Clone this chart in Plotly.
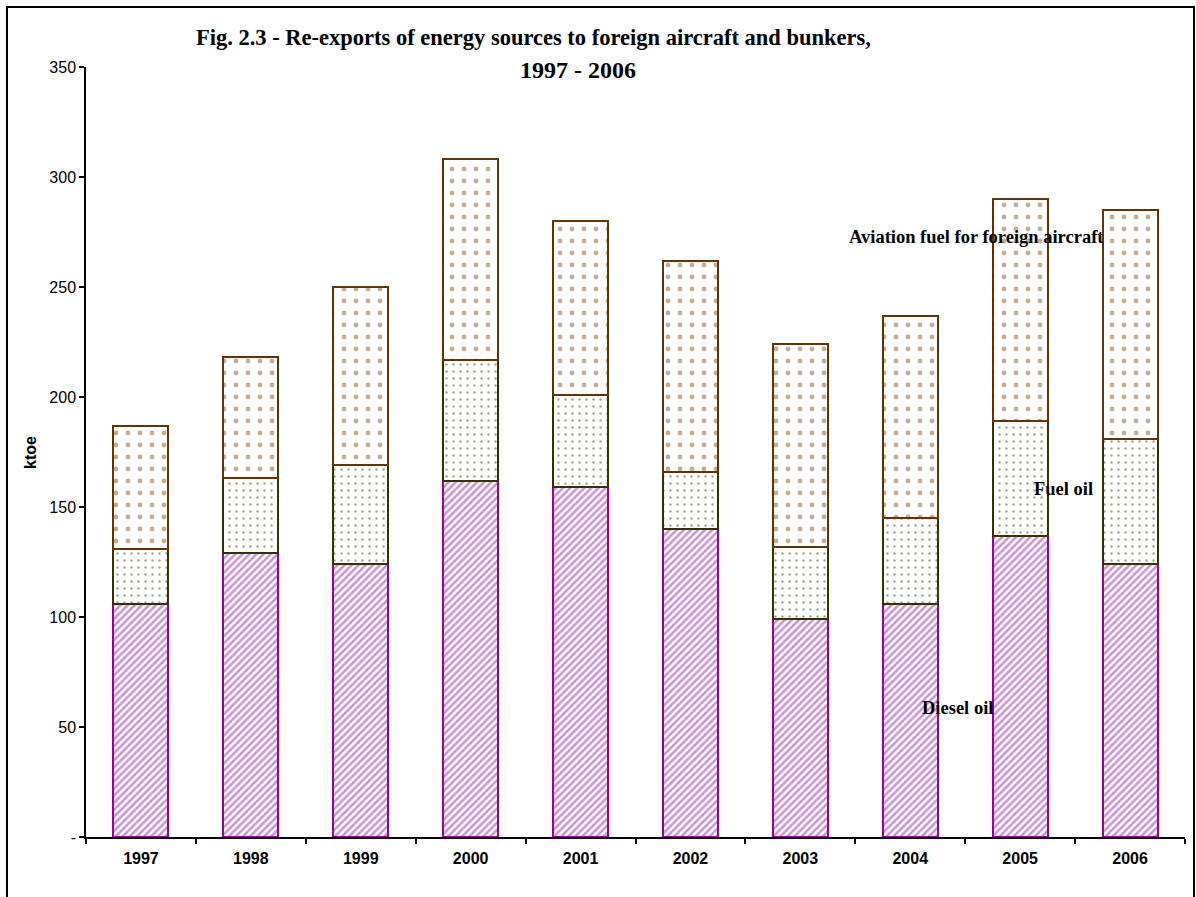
"""Re-exports of energy sources to foreign aircraft and bunkers, 1997-2006."""

import plotly.graph_objects as go

years = ["1997", "1998", "1999", "2000", "2001", "2002", "2003", "2004", "2005", "2006"]
diesel_oil = [106, 129, 124, 162, 159, 140, 99, 106, 137, 124]
fuel_oil = [25, 34, 45, 55, 42, 26, 33, 39, 52, 57]
aviation_fuel = [56, 55, 81, 91, 79, 96, 92, 92, 101, 104]

y_ticks = [0, 50, 100, 150, 200, 250, 300, 350]
y_tick_text = ["-", "50", "100", "150", "200", "250", "300", "350"]

SERIF = "Liberation Serif, Times New Roman, serif"
SANS = "Liberation Sans, Arial, sans-serif"

fig = go.Figure()

fig.add_trace(
    go.Bar(
        x=years,
        y=diesel_oil,
        name="Diesel oil",
        marker=dict(
            color="white",
            line=dict(color="#990099", width=2),
            pattern=dict(shape="/", fgcolor="#9a1fb0", bgcolor="white", size=5, solidity=0.5),
        ),
    )
)
fig.add_trace(
    go.Bar(
        x=years,
        y=fuel_oil,
        name="Fuel oil",
        marker=dict(
            color="white",
            line=dict(color="#333300", width=2),
            pattern=dict(shape=".", fgcolor="#4d4d1a", bgcolor="white", size=7, solidity=0.1),
        ),
    )
)
fig.add_trace(
    go.Bar(
        x=years,
        y=aviation_fuel,
        name="Aviation fuel for foreign aircraft",
        marker=dict(
            color="white",
            line=dict(color="#663300", width=2),
            pattern=dict(shape=".", fgcolor="#8b5a2b", bgcolor="white", size=12, solidity=0.13),
        ),
    )
)

# in-chart series labels, as in the original
labels = [
    ("Aviation fuel for foreign aircraft", 0.8106, 272.7),
    ("Fuel oil", 0.8898, 158),
    ("Diesel oil", 0.7933, 58.6),
]
for text, px, py in labels:
    fig.add_annotation(
        text=f"<b>{text}</b>",
        x=px,
        y=py,
        xref="paper",
        yref="y",
        xanchor="center",
        yanchor="middle",
        showarrow=False,
        font=dict(family=SERIF, size=18.5, color="black"),
    )

fig.add_annotation(
    text="<b>Fig. 2.3 - Re-exports of energy sources to foreign aircraft and bunkers,</b>",
    x=0.407,
    y=1.038,
    xref="paper",
    yref="paper",
    xanchor="center",
    yanchor="middle",
    showarrow=False,
    font=dict(family=SERIF, size=22.5, color="black"),
)
fig.add_annotation(
    text="<b>1997 - 2006</b>",
    x=0.448,
    y=0.996,
    xref="paper",
    yref="paper",
    xanchor="center",
    yanchor="middle",
    showarrow=False,
    font=dict(family=SERIF, size=24, color="black"),
)
fig.add_annotation(
    text="<b>ktoe</b>",
    x=-0.051,
    y=0.5,
    xref="paper",
    yref="paper",
    xanchor="center",
    yanchor="middle",
    showarrow=False,
    textangle=-90,
    font=dict(family=SANS, size=16, color="black"),
)

# outer chart frame
fig.add_shape(
    type="rect",
    xref="paper",
    yref="paper",
    x0=-0.0719,
    x1=1.0082,
    y0=-0.09,
    y1=1.0779,
    line=dict(color="black", width=2),
    layer="above",
)

fig.update_layout(
    width=1196,
    height=897,
    barmode="stack",
    bargap=0.5,
    showlegend=False,
    plot_bgcolor="white",
    paper_bgcolor="white",
    margin=dict(l=86, r=11, t=67, b=60),
)
fig.update_xaxes(
    type="category",
    showline=True,
    linecolor="black",
    linewidth=1.5,
    ticks="outside",
    tickson="boundaries",
    ticklen=5,
    tickcolor="black",
    tickwidth=1.5,
    showgrid=False,
    ticklabelstandoff=6,
    tickfont=dict(family=SANS, size=16, color="black", weight="bold"),
)
fig.update_yaxes(
    range=[0, 350],
    tickvals=y_ticks,
    ticktext=y_tick_text,
    showline=True,
    linecolor="black",
    linewidth=1.5,
    ticks="outside",
    ticklen=5,
    tickcolor="black",
    tickwidth=1.5,
    showgrid=False,
    zeroline=False,
    tickfont=dict(family=SANS, size=16, color="black"),
)

# the page margin is removed so the figure fills the window exactly
fig.write_html(
    "out.html",
    config={"displayModeBar": False},
    post_script="document.body.style.margin = '0';",
)
